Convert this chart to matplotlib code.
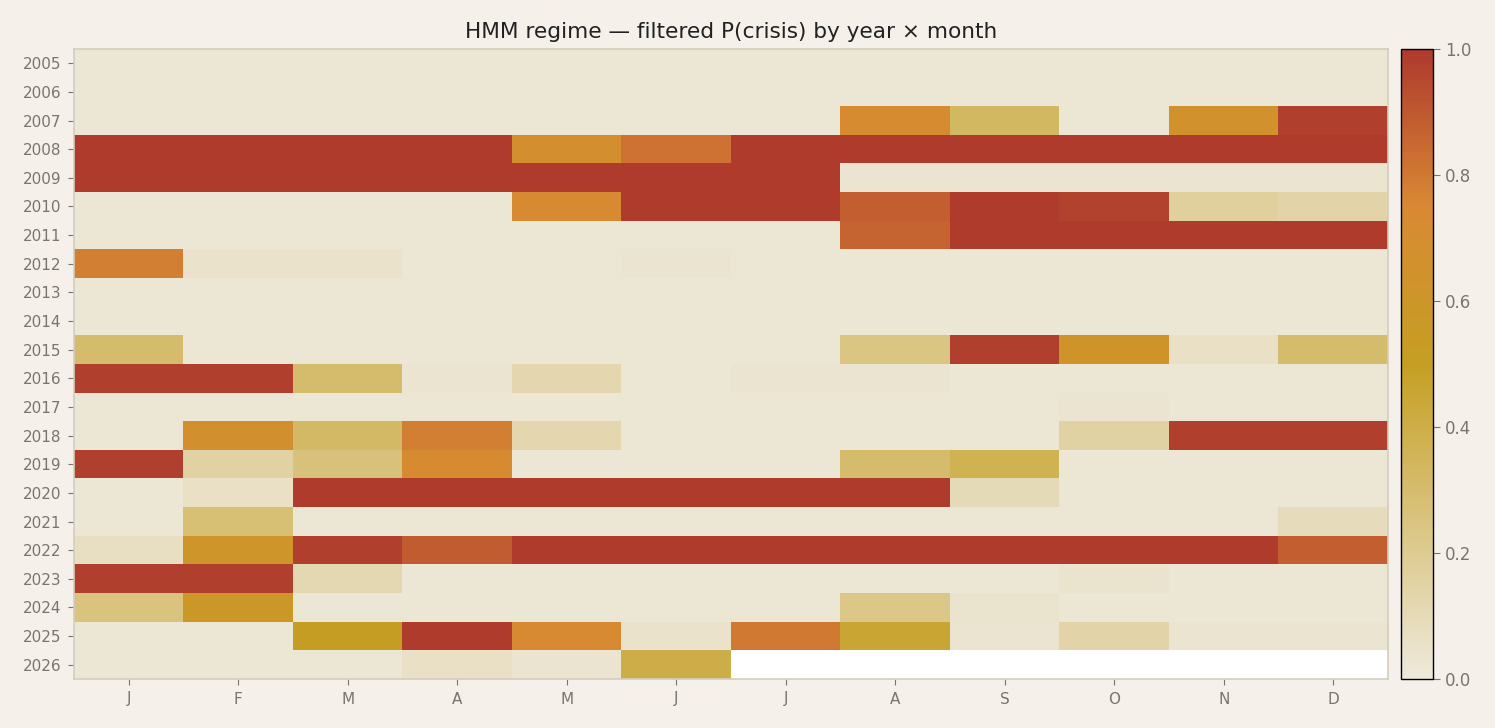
import numpy as np
import matplotlib.pyplot as plt
from matplotlib.colors import LinearSegmentedColormap

years = list(range(2005, 2027))
months = ["J", "F", "M", "A", "M", "J", "J", "A", "S", "O", "N", "D"]
nan = np.nan

# filtered P(crisis) (rows = years, cols = months)
p2005 = [0.02] * 12
p2006 = [0.02] * 12
p2007 = [0.02, 0.02, 0.02, 0.02, 0.02, 0.02, 0.02, 0.72, 0.33, 0.02, 0.65, 0.98]
p2008 = [0.99, 0.99, 0.99, 0.99, 0.68, 0.82, 0.99, 0.99, 0.99, 0.99, 0.99, 0.99]
p2009 = [0.99, 0.99, 0.99, 0.99, 0.99, 0.99, 0.99, 0.03, 0.03, 0.03, 0.03, 0.03]
p2010 = [0.02, 0.02, 0.02, 0.02, 0.73, 0.99, 0.99, 0.88, 0.99, 0.97, 0.17, 0.14]
p2011 = [0.02, 0.02, 0.02, 0.02, 0.02, 0.02, 0.02, 0.86, 0.99, 0.99, 0.99, 0.99]
p2012 = [0.78, 0.05, 0.05, 0.02, 0.02, 0.03, 0.02, 0.02, 0.02, 0.02, 0.02, 0.02]
p2013 = [0.02] * 12
p2014 = [0.02] * 12
p2015 = [0.30, 0.02, 0.02, 0.02, 0.02, 0.02, 0.02, 0.24, 0.98, 0.62, 0.06, 0.30]
p2016 = [0.98, 0.98, 0.30, 0.03, 0.12, 0.02, 0.03, 0.03, 0.02, 0.02, 0.02, 0.02]
p2017 = [0.02, 0.02, 0.02, 0.02, 0.02, 0.02, 0.02, 0.02, 0.02, 0.03, 0.02, 0.02]
p2018 = [0.02, 0.67, 0.32, 0.78, 0.12, 0.02, 0.02, 0.02, 0.02, 0.15, 0.98, 0.98]
p2019 = [0.98, 0.15, 0.26, 0.72, 0.02, 0.02, 0.02, 0.30, 0.37, 0.02, 0.02, 0.02]
p2020 = [0.02, 0.06, 0.99, 0.99, 0.99, 0.99, 0.99, 0.99, 0.10, 0.02, 0.02, 0.02]
p2021 = [0.02, 0.28, 0.02, 0.02, 0.02, 0.02, 0.02, 0.02, 0.02, 0.02, 0.02, 0.09]
p2022 = [0.07, 0.61, 0.98, 0.89, 0.99, 0.99, 0.99, 0.99, 0.99, 0.99, 0.99, 0.88]
p2023 = [0.98, 0.98, 0.11, 0.02, 0.02, 0.02, 0.02, 0.02, 0.02, 0.04, 0.02, 0.02]
p2024 = [0.25, 0.58, 0.02, 0.02, 0.02, 0.02, 0.02, 0.23, 0.04, 0.02, 0.02, 0.02]
p2025 = [0.02, 0.02, 0.52, 0.99, 0.73, 0.05, 0.80, 0.45, 0.03, 0.14, 0.03, 0.03]
p2026 = [0.02, 0.02, 0.02, 0.06, 0.03, 0.40, nan, nan, nan, nan, nan, nan]

grid = np.array([p2005, p2006, p2007, p2008, p2009, p2010, p2011, p2012, p2013,
                 p2014, p2015, p2016, p2017, p2018, p2019, p2020, p2021, p2022,
                 p2023, p2024, p2025, p2026])

cmap = LinearSegmentedColormap.from_list(
    "crisis", [(0.0, "#eee9dc"), (0.5, "#c59f22"), (0.75, "#d98934"), (1.0, "#ae392d")])

bg = "#f5f1ea"
txt = "#7a746b"
fig = plt.figure(figsize=(14.95, 7.28), dpi=100, facecolor=bg)
ax = fig.add_axes([74/1495, 49/728, 1314/1495, 630/728])
cax = fig.add_axes([1401/1495, 49/728, 32/1495, 630/728])
ax.set_facecolor("white")

im = ax.imshow(grid, cmap=cmap, vmin=0, vmax=1, aspect="auto", interpolation="nearest")
ax.set_xticks(range(12))
ax.set_xticklabels(months)
ax.set_yticks(range(len(years)))
ax.set_yticklabels([str(y) for y in years])
ax.tick_params(colors=txt, labelsize=11, length=4, pad=5)
for s in ax.spines.values():
    s.set_color("#d3cdbd")
    s.set_linewidth(1.2)
ax.set_title("HMM regime — filtered P(crisis) by year × month", fontsize=15.6, color="#222222", pad=8)

cb = fig.colorbar(im, cax=cax)
cb.set_ticks([0, 0.2, 0.4, 0.6, 0.8, 1.0])
cb.ax.tick_params(colors=txt, labelsize=12, length=5)
cb.outline.set_edgecolor("black")
cb.outline.set_linewidth(1.0)

fig.savefig("out.png", dpi=100, facecolor=bg)
